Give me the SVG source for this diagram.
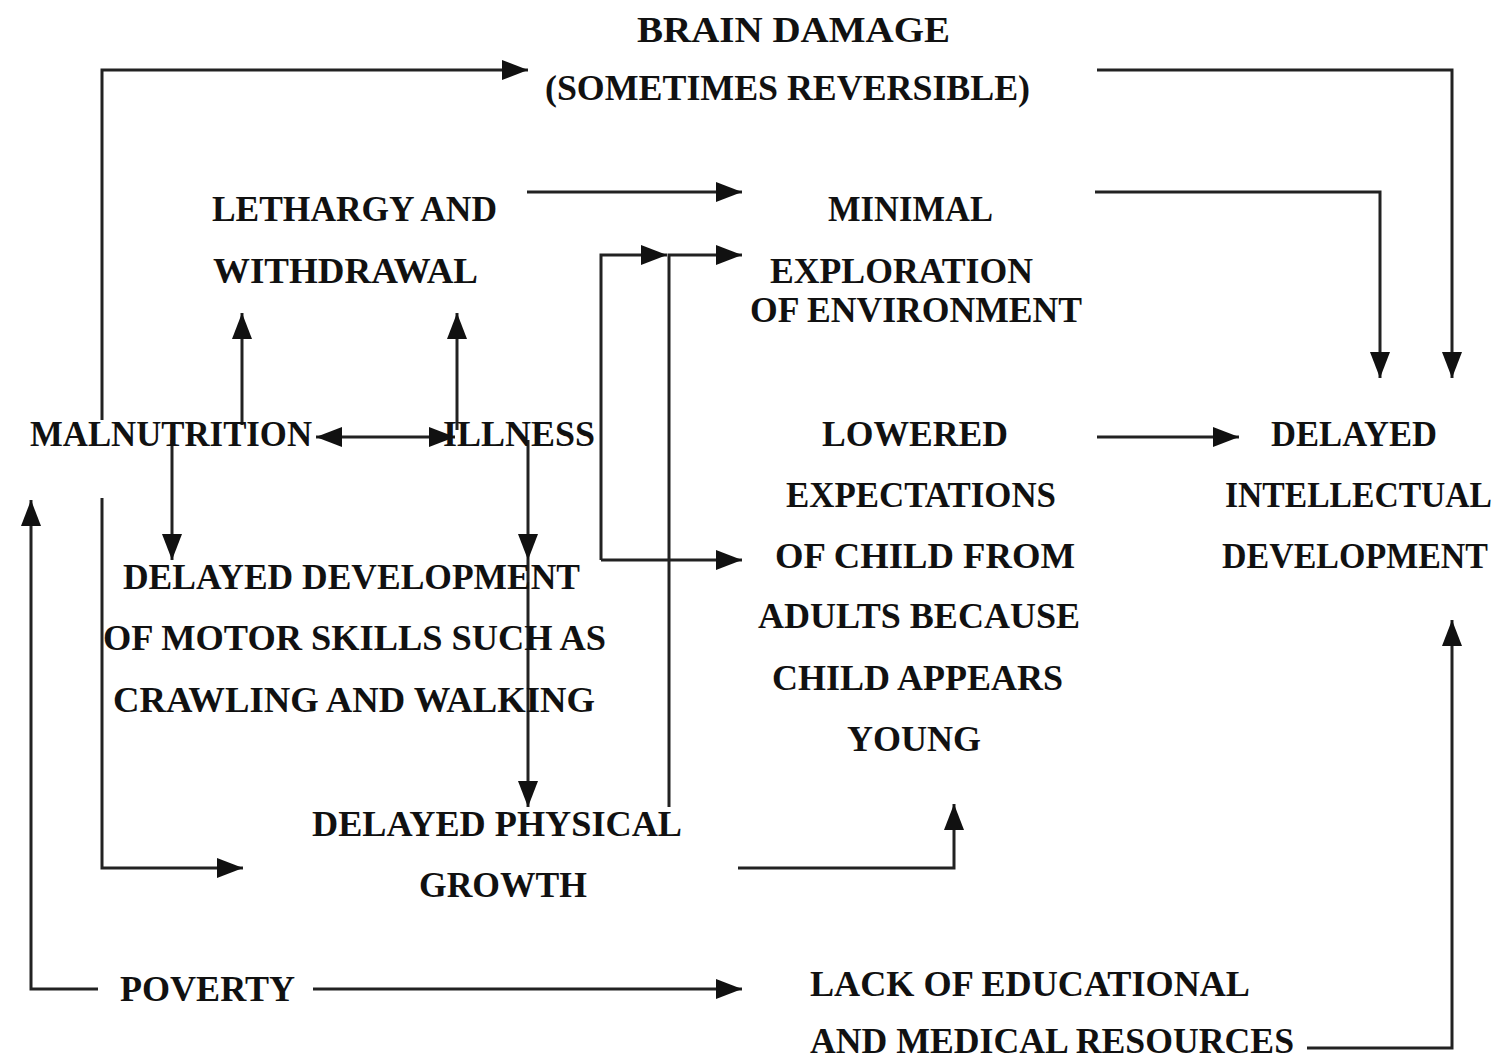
<svg xmlns="http://www.w3.org/2000/svg" width="1512" height="1061" viewBox="0 0 1512 1061">
<style>
.t{font-family:"Liberation Serif","Times New Roman",serif;font-weight:bold;font-size:35px;fill:#111}
.c{fill:none;stroke:#222;stroke-width:3}
</style>
<defs>
<marker id="ah" viewBox="0 0 26 20" refX="26" refY="10" markerWidth="26" markerHeight="20" markerUnits="userSpaceOnUse" orient="auto-start-reverse"><path d="M0,0 L26,10 L0,20 z" fill="#111"/></marker>
</defs>
<rect width="1512" height="1061" fill="#fff"/>
<g id="connectors">
<path class="c" d="M102,420 V70 H528" marker-end="url(#ah)"/>
<path class="c" d="M1097,70 H1452 V378" marker-end="url(#ah)"/>
<path class="c" d="M527,192 H742" marker-end="url(#ah)"/>
<path class="c" d="M1095,192 H1380 V378" marker-end="url(#ah)"/>
<path class="c" d="M242,425 V313" marker-end="url(#ah)"/>
<path class="c" d="M457,430 V313" marker-end="url(#ah)"/>
<path class="c" d="M316,437 H455" marker-start="url(#ah)" marker-end="url(#ah)"/>
<path class="c" d="M172,440 V560" marker-end="url(#ah)"/>
<path class="c" d="M528,440 V560" marker-end="url(#ah)"/>
<path class="c" d="M528,560 V807" marker-end="url(#ah)"/>
<path class="c" d="M601,560 V255 H667" marker-end="url(#ah)"/>
<path class="c" d="M601,560 H742" marker-end="url(#ah)"/>
<path class="c" d="M669,807 V255 H742" marker-end="url(#ah)"/>
<path class="c" d="M102,498 V868 H243" marker-end="url(#ah)"/>
<path class="c" d="M98,989 H31 V500" marker-end="url(#ah)"/>
<path class="c" d="M313,989 H742" marker-end="url(#ah)"/>
<path class="c" d="M738,868 H954 V804" marker-end="url(#ah)"/>
<path class="c" d="M1097,437 H1239" marker-end="url(#ah)"/>
<path class="c" d="M1307,1048 H1452 V620" marker-end="url(#ah)"/>
</g>
<g id="brain-damage">
<text class="t" x="637" y="42" textLength="313" lengthAdjust="spacingAndGlyphs">BRAIN DAMAGE</text>
<text class="t" x="545" y="100" textLength="485" lengthAdjust="spacingAndGlyphs">(SOMETIMES REVERSIBLE)</text>
</g>
<g id="lethargy">
<text class="t" x="212" y="221" textLength="285" lengthAdjust="spacingAndGlyphs">LETHARGY AND</text>
<text class="t" x="213" y="283" textLength="265" lengthAdjust="spacingAndGlyphs">WITHDRAWAL</text>
</g>
<g id="minimal-exploration">
<text class="t" x="828" y="221" textLength="165" lengthAdjust="spacingAndGlyphs">MINIMAL</text>
<text class="t" x="770" y="283" textLength="263" lengthAdjust="spacingAndGlyphs">EXPLORATION</text>
<text class="t" x="750" y="322" textLength="332" lengthAdjust="spacingAndGlyphs">OF ENVIRONMENT</text>
</g>
<g id="malnutrition">
<text class="t" x="30" y="446" textLength="282" lengthAdjust="spacingAndGlyphs">MALNUTRITION</text>
</g>
<g id="illness">
<text class="t" x="443" y="446" textLength="152" lengthAdjust="spacingAndGlyphs">ILLNESS</text>
</g>
<g id="delayed-motor">
<text class="t" x="123" y="589" textLength="457" lengthAdjust="spacingAndGlyphs">DELAYED DEVELOPMENT</text>
<text class="t" x="103" y="650" textLength="503" lengthAdjust="spacingAndGlyphs">OF MOTOR SKILLS SUCH AS</text>
<text class="t" x="113" y="712" textLength="482" lengthAdjust="spacingAndGlyphs">CRAWLING AND WALKING</text>
</g>
<g id="lowered-expectations">
<text class="t" x="822" y="446" textLength="186" lengthAdjust="spacingAndGlyphs">LOWERED</text>
<text class="t" x="786" y="507" textLength="270" lengthAdjust="spacingAndGlyphs">EXPECTATIONS</text>
<text class="t" x="775" y="568" textLength="300" lengthAdjust="spacingAndGlyphs">OF CHILD FROM</text>
<text class="t" x="758" y="628" textLength="322" lengthAdjust="spacingAndGlyphs">ADULTS BECAUSE</text>
<text class="t" x="772" y="690" textLength="291" lengthAdjust="spacingAndGlyphs">CHILD APPEARS</text>
<text class="t" x="847" y="751" textLength="134" lengthAdjust="spacingAndGlyphs">YOUNG</text>
</g>
<g id="delayed-intellectual">
<text class="t" x="1271" y="446" textLength="166" lengthAdjust="spacingAndGlyphs">DELAYED</text>
<text class="t" x="1225" y="507" textLength="267" lengthAdjust="spacingAndGlyphs">INTELLECTUAL</text>
<text class="t" x="1222" y="568" textLength="266" lengthAdjust="spacingAndGlyphs">DEVELOPMENT</text>
</g>
<g id="delayed-physical">
<text class="t" x="312" y="836" textLength="370" lengthAdjust="spacingAndGlyphs">DELAYED PHYSICAL</text>
<text class="t" x="419" y="897" textLength="168" lengthAdjust="spacingAndGlyphs">GROWTH</text>
</g>
<g id="poverty">
<text class="t" x="120" y="1001" textLength="175" lengthAdjust="spacingAndGlyphs">POVERTY</text>
</g>
<g id="lack-resources">
<text class="t" x="810" y="996" textLength="440" lengthAdjust="spacingAndGlyphs">LACK OF EDUCATIONAL</text>
<text class="t" x="810" y="1053" textLength="484" lengthAdjust="spacingAndGlyphs">AND MEDICAL RESOURCES</text>
</g>
</svg>
